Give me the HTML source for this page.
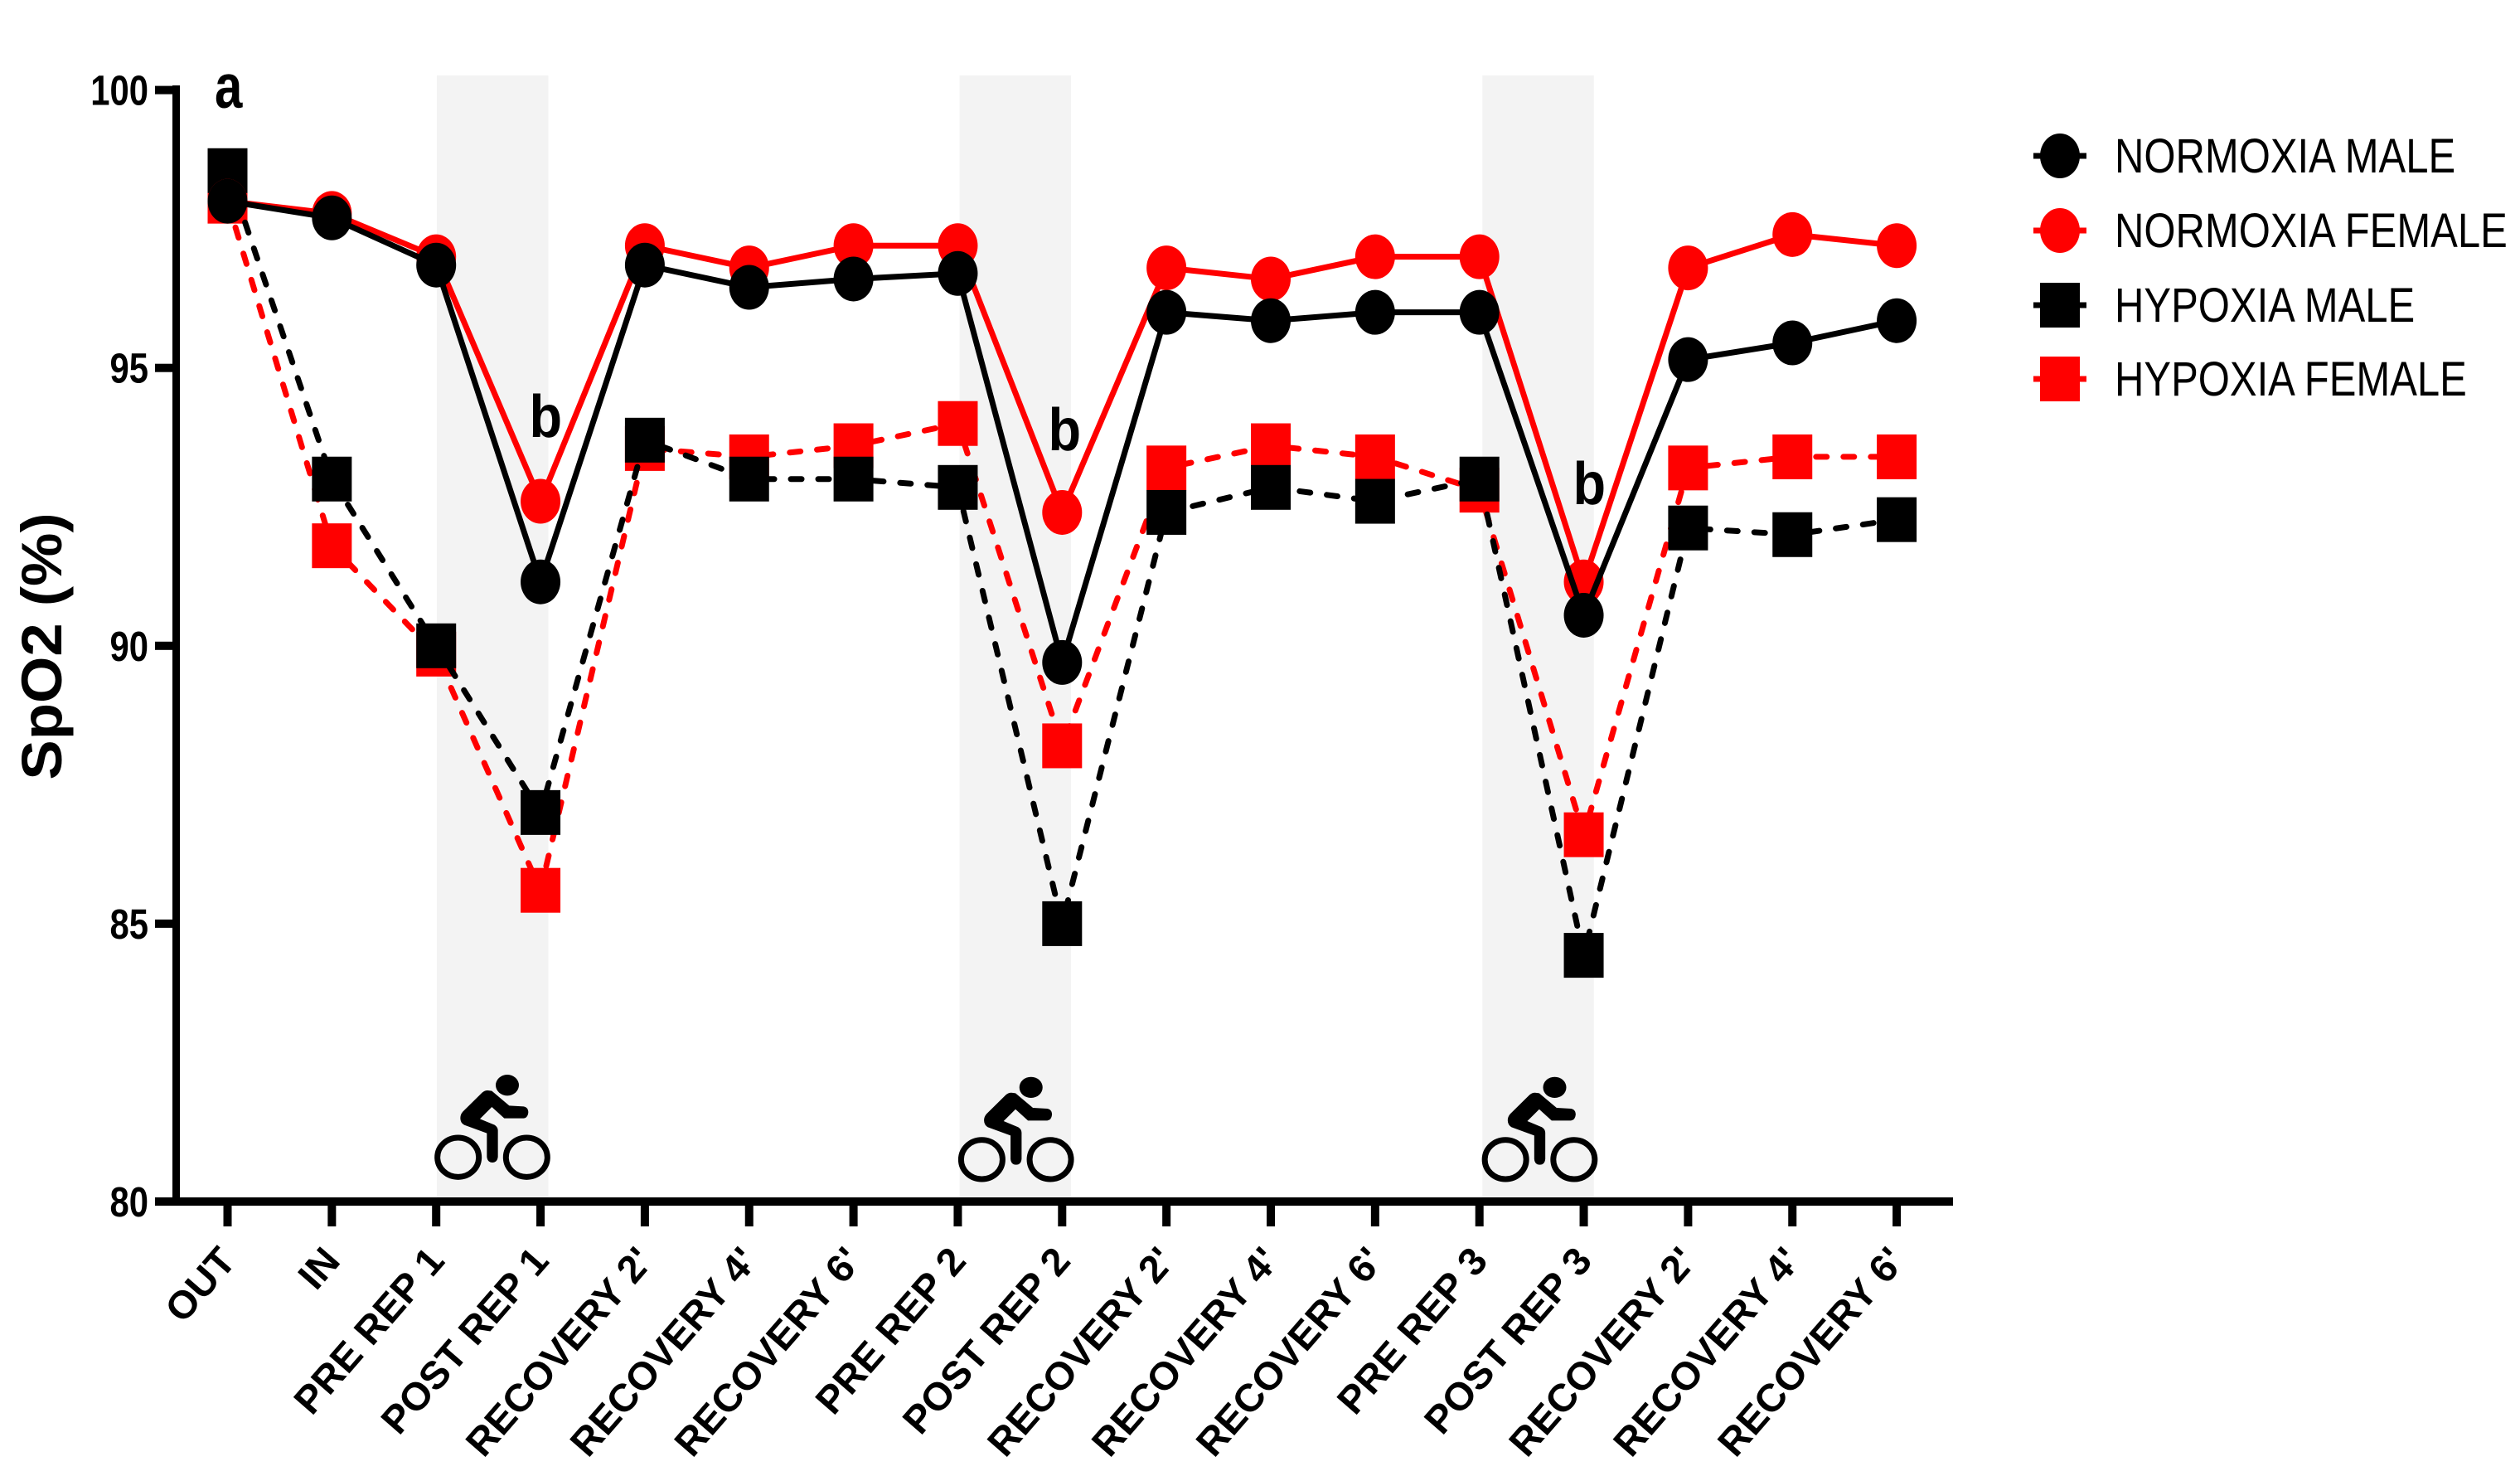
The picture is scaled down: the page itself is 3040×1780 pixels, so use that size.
<!DOCTYPE html>
<html lang="en">
<head>
<meta charset="utf-8">
<title>SpO2 chart</title>
<style>
html,body{margin:0;padding:0;background:#fff;}
svg{display:block;}
text{font-family:"Liberation Sans",sans-serif;fill:#000;}
</style>
</head>
<body>
<svg id="chart" xmlns="http://www.w3.org/2000/svg" width="3040" height="1780" viewBox="0 0 3040 1780">
<rect width="3040" height="1780" fill="#fff"/>
<g id="bands"></g>
<g id="icons"></g>
<g id="series"></g>
<g id="axes"></g>
<g id="legend"></g>
<text transform="translate(74,779.5) scale(0.95,1) rotate(-90)" text-anchor="middle" font-size="72.5" font-weight="700">SpO2 (%)</text>
<text transform="translate(259,130) scale(0.8,1)" font-size="75" font-weight="700">a</text>
<text transform="translate(638.5,527) scale(0.9,1)" font-size="72" font-weight="700">b</text>
<text transform="translate(1264.5,543) scale(0.9,1)" font-size="72" font-weight="700">b</text>
<text transform="translate(1897.5,608) scale(0.9,1)" font-size="72" font-weight="700">b</text>
</svg>
<script>
const categories = ["OUT","IN","PRE REP 1","POST REP 1","RECOVERY 2'","RECOVERY 4'","RECOVERY 6'","PRE REP 2","POST REP 2","RECOVERY 2'","RECOVERY 4'","RECOVERY 6'","PRE REP 3","POST REP 3","RECOVERY 2'","RECOVERY 4'","RECOVERY 6'"];
const normoxiaMale = [98,97.7,96.85,91.15,96.85,96.45,96.6,96.7,89.7,96,95.85,96,96,90.55,95.15,95.45,95.85];
const normoxiaFemale = [98,97.78,97,92.6,97.2,96.8,97.2,97.2,92.4,96.8,96.6,97,97,91.15,96.8,97.4,97.2];
const hypoxiaMale = [98.55,93,90,87,93.7,93,93,92.85,85,92.4,92.85,92.6,93,84.43,92.12,92,92.27];
const hypoxiaFemale = [98,91.8,89.85,85.6,93.55,93.4,93.6,94,88.2,93.2,93.6,93.4,92.8,86.6,93.2,93.4,93.4];
const yTicks = [80,85,90,95,100];
const bandCategories = [2,7,12];
const legendLabels = ["NORMOXIA MALE","NORMOXIA FEMALE","HYPOXIA MALE","HYPOXIA FEMALE"];

const NS = "http://www.w3.org/2000/svg";
const x = i => 274.5 + i * 125.85;
const y = v => 1449 - (v - 80) * 67.02;
function mk(tag, parent, attrs) {
  const el = document.createElementNS(NS, tag);
  for (const k in attrs) el.setAttribute(k, attrs[k]);
  parent.appendChild(el);
  return el;
}
const bandsG = document.getElementById("bands");
const iconsG = document.getElementById("icons");
const seriesG = document.getElementById("series");
const axesG = document.getElementById("axes");
const legendG = document.getElementById("legend");

/* exercise bands */
bandCategories.forEach(function (b, n) {
  const left = x(b) + 0.8 + n * 1.4;
  const el = mk("rect", bandsG, {x: left, y: 91, width: 134.5, height: 1353, fill: "#f3f3f3"});
  
  
});

/* cyclist icons */
const cyclistBody = "M325 195 L340 197 L403 250 L455 253 Q472 256 472 275 Q470 294 455 296 L385 296 L340 255 L297 298 L350 320 Q362 328 362 340 L362 435 Q360 456 342 456 Q324 456 322 435 L322 350 L240 320 Q226 312 226 295 Q226 282 235 272 L305 203 Q314 195 325 195 Z";
bandCategories.forEach(function (b, n) {
  const dx = x(b) - x(2) + n * 2.5;
  const dy = n === 0 ? 0 : 2.7;
  const g = mk("g", iconsG, {transform: "translate(" + (480 + dx) + "," + (1250 + dy) + ") scale(0.3333)"});
  
  
  mk("ellipse", g, {cx: 396, cy: 176, rx: 42, ry: 38, fill: "#000"});
  mk("path", g, {d: cyclistBody, fill: "#000"});
  mk("ellipse", g, {cx: 218, cy: 437, rx: 75, ry: 71, fill: "none", stroke: "#000", "stroke-width": 21});
  mk("ellipse", g, {cx: 466, cy: 437, rx: 75, ry: 71, fill: "none", stroke: "#000", "stroke-width": 21});
});

/* series, back to front */
function drawSeries(values, color, dashed, shape, name) {
  const g = mk("g", seriesG, {});
  
  
  const d = values.map((v, i) => (i ? "L" : "M") + x(i) + " " + y(v)).join(" ");
  const line = mk("path", g, {d: d, fill: "none", stroke: color, "stroke-width": 7, "stroke-linejoin": "miter", "stroke-linecap": dashed ? "round" : "butt"});
  if (dashed) line.setAttribute("stroke-dasharray", "13 20");
  
  
  values.forEach(function (v, i) {
    let m;
    if (shape === "circle") {
      m = mk("ellipse", g, {cx: x(i), cy: y(v), rx: 24, ry: 27, fill: color});
    } else {
      m = mk("rect", g, {x: x(i) - 24, y: y(v) - 27, width: 48, height: 54, fill: color});
    }
    
    
  });
}
drawSeries(hypoxiaFemale, "#ff0000", true, "square", "hypoxia-female-series");
drawSeries(hypoxiaMale, "#000000", true, "square", "hypoxia-male-series");
drawSeries(normoxiaFemale, "#ff0000", false, "circle", "normoxia-female-series");
drawSeries(normoxiaMale, "#000000", false, "circle", "normoxia-male-series");

/* axes */
const yAxisLine = mk("rect", axesG, {x: 208, y: 103, width: 9, height: 1351, fill: "#000"});


const xAxisLine = mk("rect", axesG, {x: 187, y: 1444, width: 2169, height: 10, fill: "#000"});


yTicks.forEach(function (t) {
  const tick = mk("rect", axesG, {x: 187, y: y(t) - 5, width: 22, height: 10, fill: "#000"});
  
  
  const label = mk("text", axesG, {transform: "translate(179," + (y(t) + 18) + ") scale(0.82,1)", "text-anchor": "end", "font-size": 51, "font-weight": 700});
  label.textContent = t;
  
  
});
categories.forEach(function (c, i) {
  const tick = mk("rect", axesG, {x: x(i) - 5, y: 1450, width: 10, height: 29, fill: "#000"});
  
  
  const label = mk("text", axesG, {transform: "translate(" + (x(i) + 12) + ",1522) rotate(-49) scale(1.01,1)", "text-anchor": "end", "font-size": 47, "font-weight": 700});
  label.textContent = c;
  
  
});

/* legend */
const legendColors = ["#000000","#ff0000","#000000","#ff0000"];
const legendShapes = ["circle","circle","square","square"];
const legendRowY = [188, 278, 368, 457];
legendLabels.forEach(function (lab, i) {
  const g = mk("g", legendG, {});
  
  
  const cy = legendRowY[i];
  mk("rect", g, {x: 2453, y: cy - 3.5, width: 64, height: 7, fill: legendColors[i]});
  if (legendShapes[i] === "circle") {
    mk("ellipse", g, {cx: 2485, cy: cy, rx: 24, ry: 27, fill: legendColors[i]});
  } else {
    mk("rect", g, {x: 2461, y: cy - 27, width: 48, height: 54, fill: legendColors[i]});
  }
  const t = mk("text", g, {transform: "translate(2551," + (cy + 20) + ") scale(0.845,1)", "font-size": 58});
  t.textContent = lab;
  
  
});
</script>
</body>
</html>
